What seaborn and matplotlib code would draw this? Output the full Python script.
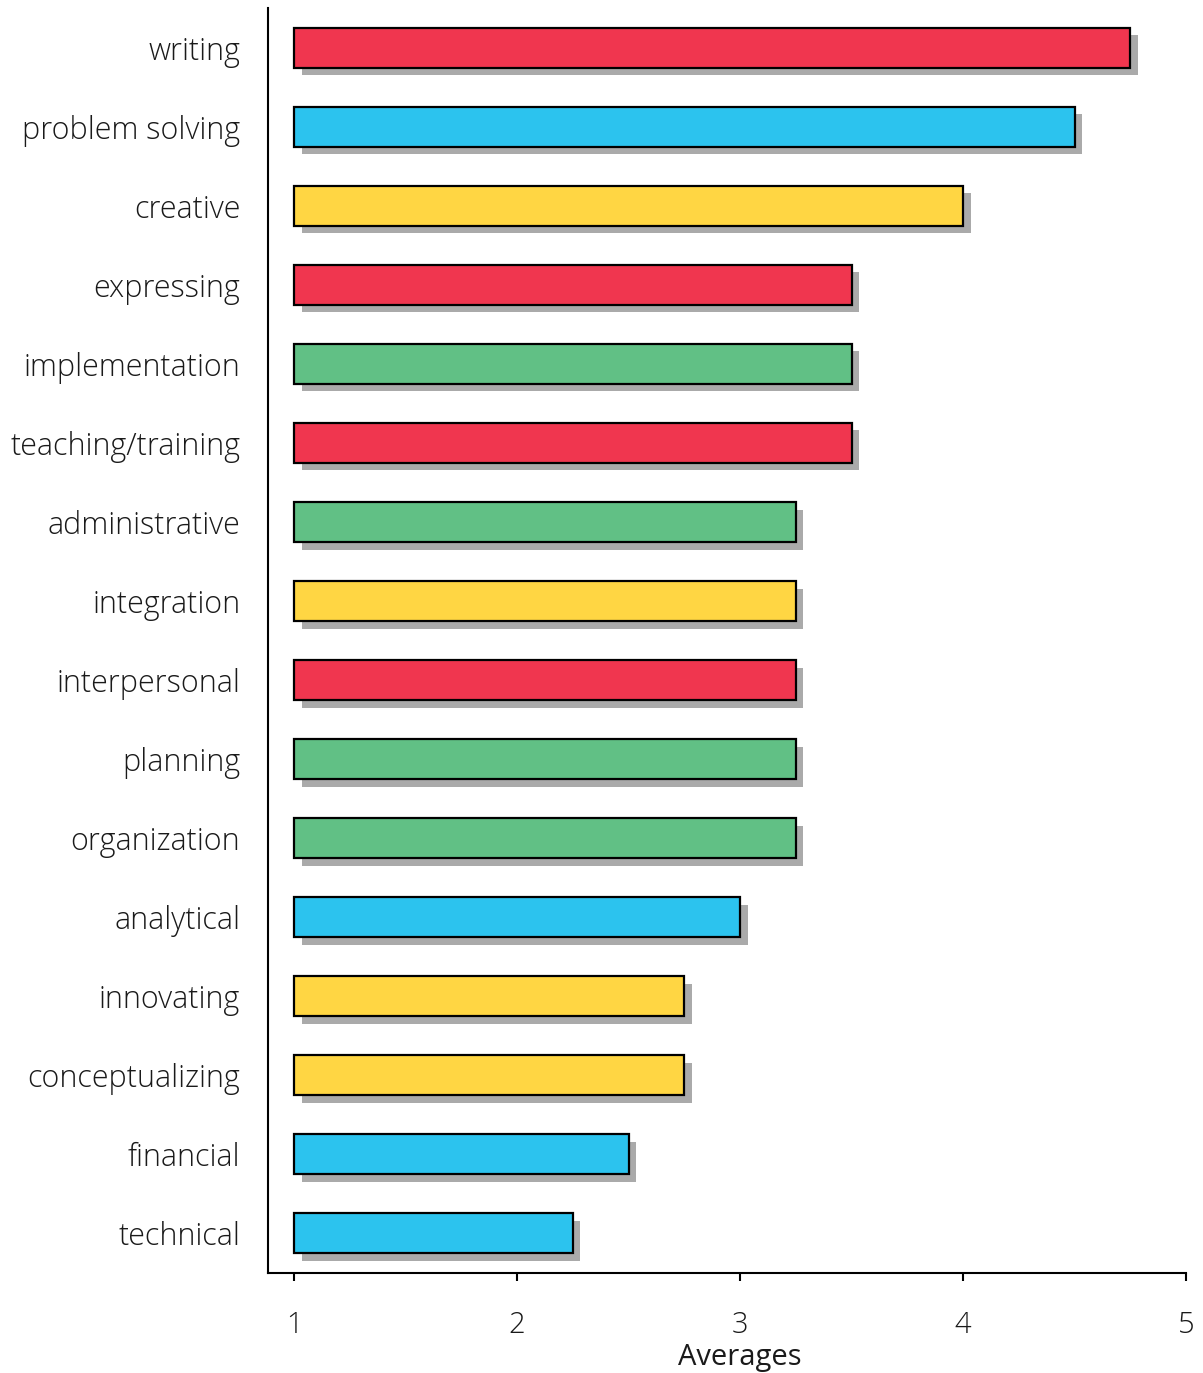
import matplotlib
matplotlib.use("Agg")
import matplotlib.pyplot as plt
import matplotlib.patheffects as pe
import seaborn as sns
import pandas as pd

skills = ["writing", "problem solving", "creative", "expressing", "implementation",
          "teaching/training", "administrative", "integration", "interpersonal",
          "planning", "organization", "analytical", "innovating", "conceptualizing",
          "financial", "technical"]
averages = [4.75, 4.5, 4.0, 3.5, 3.5, 3.5, 3.25, 3.25, 3.25, 3.25, 3.25, 3.0,
            2.75, 2.75, 2.5, 2.25]
groups = ["communication", "analysis", "creativity", "communication", "management",
          "communication", "management", "creativity", "communication",
          "management", "management", "analysis", "creativity", "creativity",
          "analysis", "analysis"]
group_colors = {"communication": "#F0364F", "analysis": "#2CC3EE",
                "creativity": "#FFD643", "management": "#61C085"}
x_ticks = [1, 2, 3, 4, 5]
x_label = "Averages"
baseline = 1

df = pd.DataFrame({"skill": skills, "average": averages, "group": groups})

sns.set_theme(style="white")
plt.rcParams["font.family"] = ["Open Sans", "DejaVu Sans"]
plt.rcParams["font.weight"] = "light"

fig = plt.figure(figsize=(12.03, 13.73), dpi=100)
ax = fig.add_axes([268 / 1203, 1 - 1273 / 1373, (1186 - 268) / 1203, (1273 - 8) / 1373])

shadow = [pe.SimplePatchShadow(offset=(5.5, -5.5), shadow_rgbFace="#aaaaaa", alpha=1.0),
          pe.Normal()]
sns.barplot(data=df, x="average", y="skill", hue="group", order=skills,
            palette=group_colors, saturation=1, dodge=False, width=0.506,
            legend=False, edgecolor="black", linewidth=1.6, ax=ax)

for bar in ax.patches:
    w = bar.get_width()
    bar.set_x(baseline)
    bar.set_width(w - baseline)
    bar.set_path_effects(shadow)

ax.set_xlim(0.883, 5)
ax.set_ylim(15.5, -0.5)
ax.set_xticks(x_ticks)
ax.set_xticklabels([str(t) for t in x_ticks])
for s in ["top", "right"]:
    ax.spines[s].set_visible(False)
for s in ["left", "bottom"]:
    ax.spines[s].set_linewidth(1.5)
    ax.spines[s].set_color("black")

ax.tick_params(axis="y", length=0, pad=20, labelsize=22, labelcolor="#1a1a1a")
ax.tick_params(axis="x", length=6, width=1.5, direction="out", color="black",
               pad=21, labelsize=21, labelcolor="#1a1a1a", bottom=True)
ax.set_ylabel("")
ax.set_xlabel(x_label, fontsize=21, color="#1a1a1a", labelpad=2.5)
ax.xaxis.label.set_x((3 - 0.883) / (5 - 0.883))
ax.grid(False)

fig.savefig("out.png", dpi=100, facecolor="white")
